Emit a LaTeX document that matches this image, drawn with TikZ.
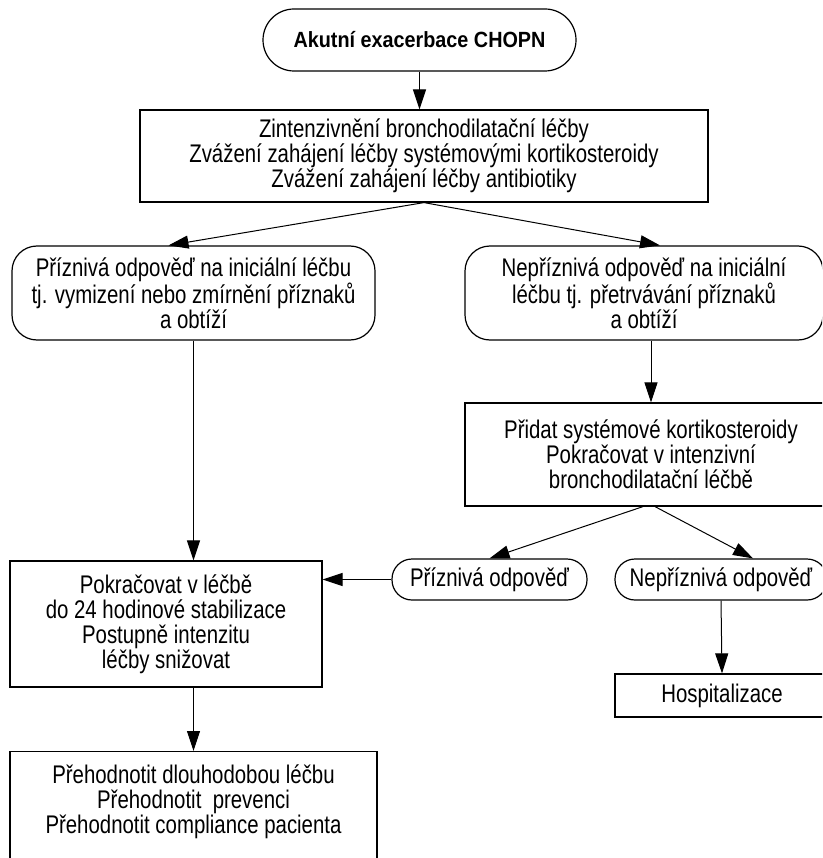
\documentclass[tikz,border=0pt]{standalone}
\usepackage{fontspec}
\setmainfont{Liberation Sans}[FakeStretch=0.8]
\newfontfamily\titlefont{Liberation Sans}[FakeStretch=0.9]
\usetikzlibrary{arrows.meta}

\begin{document}
\begin{tikzpicture}[x=1pt,y=-1pt,
  box/.style={draw, line width=1.2pt, align=center, inner sep=0pt},
  roundbox/.style={box, rounded corners=25pt},
  pill/.style={box, rounded corners=20pt},
  arr/.style={line width=1pt, -{Triangle[length=20pt,width=13pt]}},
  font=\fontsize{25.5}{25}\selectfont]

\useasboundingbox (0,0) rectangle (822,858);
\clip (0,0) rectangle (822,858);

\node[box, rounded corners=31pt, minimum width=313pt, minimum height=62pt,
  font=\titlefont\bfseries\fontsize{22}{22}\selectfont] (start) at (419.5,40) {Akutní exacerbace CHOPN};

\node[box, minimum width=568pt, minimum height=92pt] (intens) at (424,156)
  {Zintenzivnění bronchodilatační léčby\\Zvážení zahájení léčby systémovými kortikosteroidy\\Zvážení zahájení léčby antibiotiky};

\node[roundbox, minimum width=363pt, minimum height=94pt] (good) at (193.5,293)
  {Příznivá odpověď na iniciální léčbu\\tj. vymizení nebo zmírnění příznaků\\a obtíží};
\node[roundbox, minimum width=358pt, minimum height=94pt] (bad) at (644,293)
  {Nepříznivá odpověď na iniciální\\léčbu tj. přetrvávání příznaků\\a obtíží};

\node[box, minimum width=372pt, minimum height=103pt] (steroid) at (651,454.5)
  {Přidat systémové kortikosteroidy\\Pokračovat v intenzivní\\bronchodilatační léčbě};

\node[pill, minimum width=195pt, minimum height=41pt] (posresp) at (489.5,579.5) {Příznivá odpověď};
\node[pill, minimum width=212pt, minimum height=41pt] (negresp) at (721,579.5) {Nepříznivá odpověď};
\node[box, minimum width=214pt, minimum height=43pt] (hosp) at (722,695.5) {Hospitalizace};

\node[box, minimum width=312pt, minimum height=126pt] (cont) at (166,624)
  {Pokračovat v léčbě\\do 24 hodinové stabilizace\\Postupně intenzitu\\léčby snižovat};

%box is cut at the bottom edge
\node[box, anchor=north, minimum width=367pt, minimum height=130pt] (review) at (193.5,751) {};
\node[align=center] (reviewtext) at (193.5,802)
  {Přehodnotit dlouhodobou léčbu\\Přehodnotit \ prevenci\\Přehodnotit compliance pacienta};

\draw[arr] (start.south) -- (start.south |- intens.north);
\draw[arr] (intens.south) -- ([xshift=-25pt]good.north);
\draw[arr] (intens.south) -- ([xshift=16pt]bad.north);
\draw[arr] (good.south) -- (good.south |- cont.north);
\draw[arr] (bad.south -| steroid.north) -- (steroid.north);
\draw[arr] ([xshift=-8pt]steroid.south) -- (posresp.north);
\draw[arr] ([xshift=4pt]steroid.south) -- ([xshift=32pt]negresp.north);
\draw[arr] (posresp.west) -- (posresp.west -| cont.east);
\draw[arr] (negresp.south) -- (hosp.north);
\draw[arr] (cont.south -| review.north) -- (review.north);

\end{tikzpicture}
\end{document}
